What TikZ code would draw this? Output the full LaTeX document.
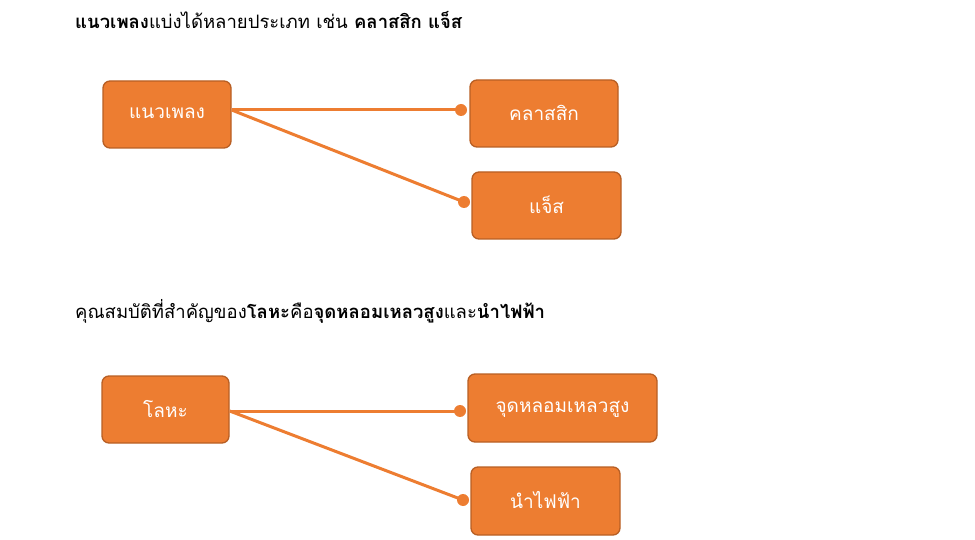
\documentclass[tikz,border=0pt]{standalone}
\usepackage{fontspec}
\setmainfont[Script=Thai]{Loma}
\definecolor{orfill}{HTML}{ED7D31}
\definecolor{ordraw}{HTML}{B85F24}
\begin{document}
\begin{tikzpicture}[x=1pt,y=-1pt,
  box/.style={draw=ordraw,line width=1.3pt,fill=orfill,rounded corners=7pt,text=white,font=\fontsize{19}{21}\selectfont,inner sep=0pt},
  link/.style={draw=orfill,line width=3pt},
  dotc/.style={fill=orfill,circle,inner sep=0pt,minimum size=12pt},
  ttl/.style={anchor=west,inner sep=0pt,font=\fontsize{18.5}{21}\selectfont}]
\useasboundingbox (0,0) rectangle (975,540);
\node[ttl] (t1) at (75,20) {\textbf{แนวเพลง}แบ่งได้หลายประเภท เช่น \textbf{คลาสสิก แจ็ส}};
\node[box,minimum width=128pt,minimum height=67pt,text depth=2pt] (a) at (167,114.5) {แนวเพลง};
\node[box,minimum width=148pt,minimum height=67pt,text depth=2pt] (b) at (544,113.5) {คลาสสิก};
\node[box,minimum width=149pt,minimum height=67pt,text depth=2pt] (c) at (546.5,205.5) {แจ็ส};
\node[dotc] (db) at (461,110) {};
\node[dotc] (dc) at (464,202) {};
\draw[link] (a.east |- db.center) -- (db.center);
\draw[link] (a.east |- db.center) -- (dc.center);

\node[ttl] (t2) at (75,311) {คุณสมบัติที่สำคัญของ\textbf{โลหะ}คือ\textbf{จุดหลอมเหลวสูง}และ\textbf{นำไฟฟ้า}};
\node[box,minimum width=127pt,minimum height=67pt,text depth=2pt] (d) at (165.5,409.5) {โลหะ};
\node[box,minimum width=189pt,minimum height=68pt,text depth=2pt] (e) at (562.5,408) {จุดหลอมเหลวสูง};
\node[box,minimum width=149pt,minimum height=68pt,text depth=2pt] (f) at (545.5,501) {นำไฟฟ้า};
\node[dotc] (de) at (460,411) {};
\node[dotc] (df) at (463,500) {};
\draw[link] (d.east |- de.center) -- (de.center);
\draw[link] (d.east |- de.center) -- (df.center);
\end{tikzpicture}
\end{document}
